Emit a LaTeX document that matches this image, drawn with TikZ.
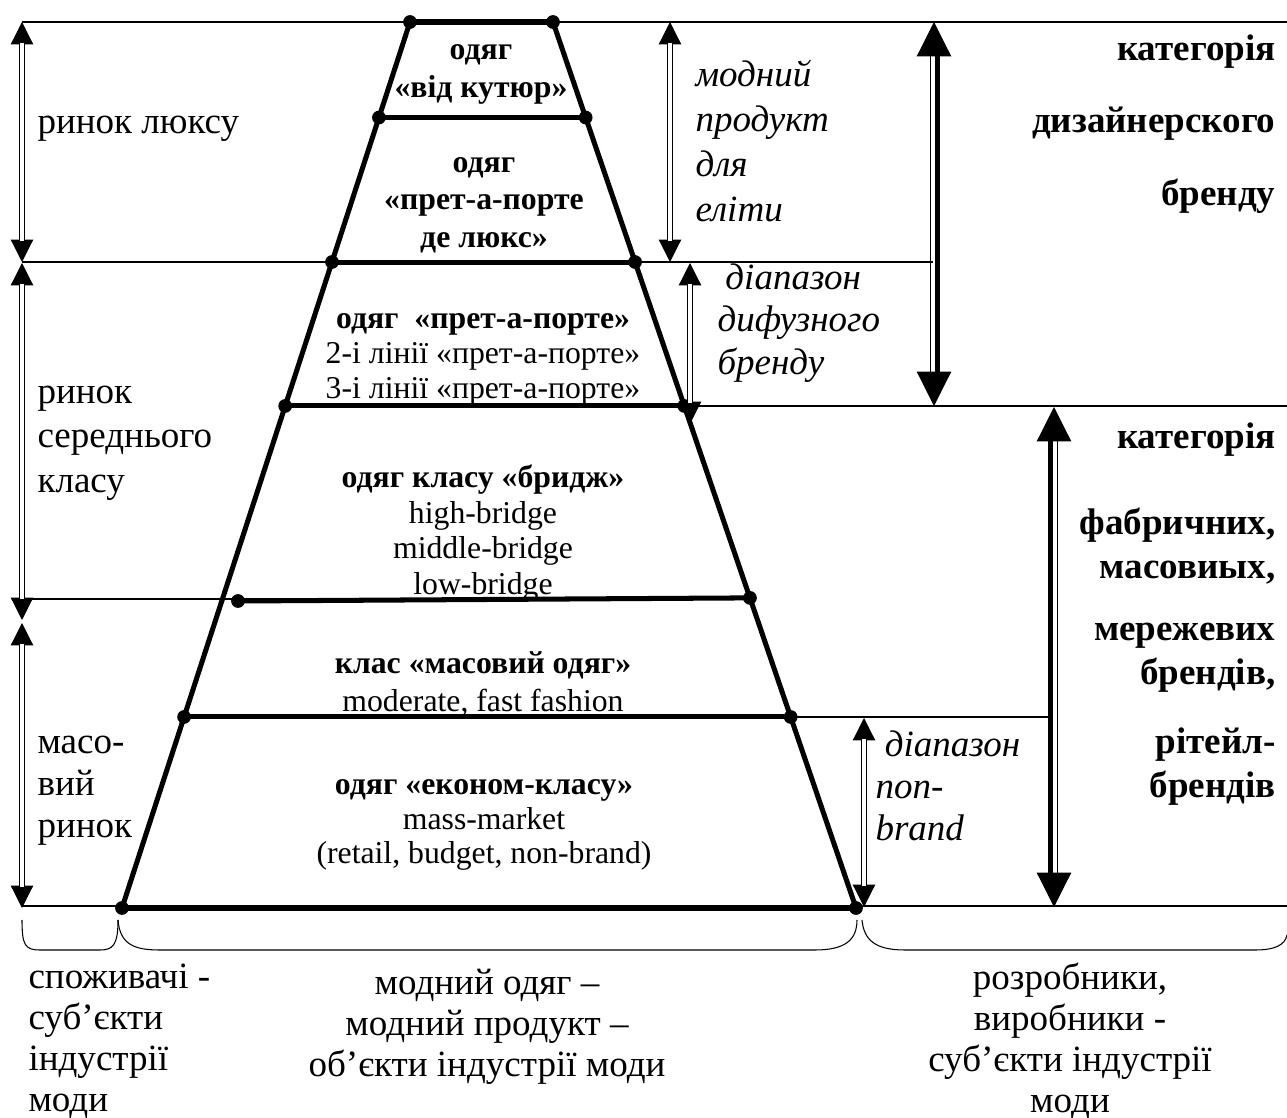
\documentclass[tikz,border=0pt]{standalone}
\usepackage{fontspec}
\setmainfont{Liberation Serif}
\usetikzlibrary{calc,arrows.meta}
\newcommand{\tikzLevel}[3]{
  \coordinate (#1l) at (#2);
  \coordinate (#1r) at (#3);
  \draw[level] (#1l) -- (#1r);
  \fill (#1l) circle (2.6pt) (#1r) circle (2.6pt);
}
\newcommand{\tikzDblArrow}[2]{
  \draw[tips=8.5pt] (#1) -- (#2);
  \draw[double,double distance=1.3pt,line width=0.45pt,shorten <=8pt,shorten >=8pt] (#1) -- (#2);
}
\newcommand{\tikzBigArrow}[4]{
  \draw[tips=13pt] (#1) -- (#2);
  \draw[line width=#3,shorten <=12pt,shorten >=12pt] ([xshift=-1.3pt]#1) -- ([xshift=-1.3pt]#2);
  \draw[line width=#4,shorten <=12pt,shorten >=12pt] ([xshift=1.3pt]#1) -- ([xshift=1.3pt]#2);
}

\begin{document}
\begin{tikzpicture}[x=0.378pt,y=-0.378pt,
  level/.style={line width=1.9pt},
  rule/.style={line width=0.45pt},
  tips/.style={white,line width=0.45pt,{Triangle[length=#1,width=#1,color=black,fill=black]}-{Triangle[length=#1,width=#1,color=black,fill=black]}},
  txt/.style={inner sep=0pt,align=left,anchor=west,font=\fontsize{14}{#1}\selectfont},
  ital/.style={inner sep=0pt,align=left,anchor=west,font=\fontsize{14}{#1}\selectfont\itshape},
  cat/.style={inner sep=0pt,align=right,anchor=east,font=\fontsize{14}{#1}\selectfont\bfseries},
  pyr/.style={inner sep=0pt,align=center,font=\fontsize{12}{#1}\selectfont},
  foot/.style={inner sep=0pt,font=\fontsize{14}{15.5}\selectfont}]
  \useasboundingbox (0,0) rectangle (1287,1118);

  \draw[rule] (22,22) -- (1287,22);
  \draw[rule] (22,262) -- (934,262);
  \draw[rule] (684,406) -- (1287,406);
  \draw[rule] (22,599) -- (310,599);
  \draw[rule] (789,717) -- (1054,717);
  \draw[rule] (22,906) -- (1287,906);

  \tikzLevel{a}{410,22}{553,22}
  \tikzLevel{g}{122,908}{856,908}
  \draw[level] (al) -- (gl) (ar) -- (gr);
  \tikzLevel{b}{$(al)!0.1078!(gl)$}{$(ar)!0.1078!(gr)$}
  \tikzLevel{c}{$(al)!0.2709!(gl)$}{$(ar)!0.2709!(gr)$}
  \tikzLevel{d}{$(al)!0.4334!(gl)$}{$(ar)!0.4334!(gr)$}
  \tikzLevel{e}{238,601}{$(ar)!0.6500!(gr)$}
  \tikzLevel{f}{$(al)!0.7844!(gl)$}{$(ar)!0.7844!(gr)$}

  \coordinate (lux1) at (22,22);  \coordinate (lux2) at (22,262);
  \coordinate (mid1) at (22,263); \coordinate (mid2) at (22,620);
  \coordinate (mas1) at (22,623); \coordinate (mas2) at (22,908);
  \tikzDblArrow{lux1}{lux2}
  \tikzDblArrow{mid1}{mid2}
  \tikzDblArrow{mas1}{mas2}

  \coordinate (eli1) at (670,22);  \coordinate (eli2) at (670,262);
  \coordinate (dif1) at (690,263); \coordinate (dif2) at (690,424);
  \coordinate (nob1) at (864,718); \coordinate (nob2) at (864,907);
  \tikzDblArrow{eli1}{eli2}
  \tikzDblArrow{dif1}{dif2}
  \tikzDblArrow{nob1}{nob2}

  \coordinate (des1) at (934,22);   \coordinate (des2) at (934,406);
  \coordinate (fab1) at (1054,407); \coordinate (fab2) at (1054,907);
  \tikzBigArrow{des1}{des2}{0.45pt}{1.9pt}
  \tikzBigArrow{fab1}{fab2}{1.9pt}{0.45pt}

  \draw[thin] (22,920) .. controls (22,945) and (25,950) .. (40,950) -- (100,950) .. controls (113,950) and (118,945) .. (118,920);
  \draw[thin] (118,920) .. controls (120,945) and (135,950) .. (160,950) -- (815,950) .. controls (845,950) and (857,940) .. (857,920);
  \draw[thin] (862,920) .. controls (864,940) and (875,950) .. (905,950) -- (1255,950) .. controls (1275,950) and (1285,945) .. (1287,935);

  \node[txt=16.4] (luxm) at (37,129) {ринок люксу};
  \node[txt=16.8] (midm) at (37,443) {ринок\\середнього\\класу};
  \node[txt=15.9] (masm) at (37,791) {масо-\\вий\\ринок};

  \node[pyr=14.4,font=\fontsize{12}{14.4}\selectfont\bfseries] (cout) at (481,74) {одяг\\«від кутюр»};
  \node[pyr=14.2,font=\fontsize{12}{14.2}\selectfont\bfseries] (luxe) at (484,205) {одяг\\«прет-а-порте\\де люкс»};
  \node[pyr=13.2] (pret) at (483,359) {\textbf{одяг\ \ «прет-а-порте»}\\2-і лінії «прет-а-порте»\\3-і лінії «прет-а-порте»};
  \node[pyr=13.5] (brid) at (483,533) {\textbf{одяг класу «бридж»}\\high-bridge\\middle-bridge\\low-bridge};
  \node[pyr=14] (mass) at (483,684) {\textbf{клас «масовий одяг»}\\moderate, fast fashion};
  \node[pyr=13] (econ) at (484,825) {\textbf{одяг «економ-класу»}\\mass-market\\(retail, budget, non-brand)};

  \node[ital=17] (elit) at (695,141) {модний\\продукт\\для\\еліти};
  \node[ital=16] (diff) at (717,323) {\hspace*{3pt}діапазон\\дифузного\\бренду};
  \node[ital=16] (nonb) at (875,786) {\hspace*{3.5pt}діапазон\\non-\\brand};

  \node[cat=27.5] (desg) at (1276,124) {категорія\\дизайнерского\\бренду};
  \node[cat=16.6] (cat2) at (1276,440) {категорія};
  \node[cat=16.6] (fabr) at (1276,546) {фабричних,\\масовиых,};
  \node[cat=16.6] (netw) at (1276,658) {мережевих\\брендів,};
  \node[cat=16.6] (reta) at (1276,767) {рітейл-\\брендів};

  \node[foot,align=left,anchor=west] (cons) at (28,1041) {споживачі -\\суб’єкти\\індустрії\\моди};
  \node[foot,align=center] (prod) at (487,1027) {модний одяг –\\модний продукт –\\об’єкти індустрії моди};
  \node[foot,align=center] (make) at (1070,1041) {розробники,\\виробники -\\суб’єкти індустрії\\моди};
\end{tikzpicture}
\end{document}
